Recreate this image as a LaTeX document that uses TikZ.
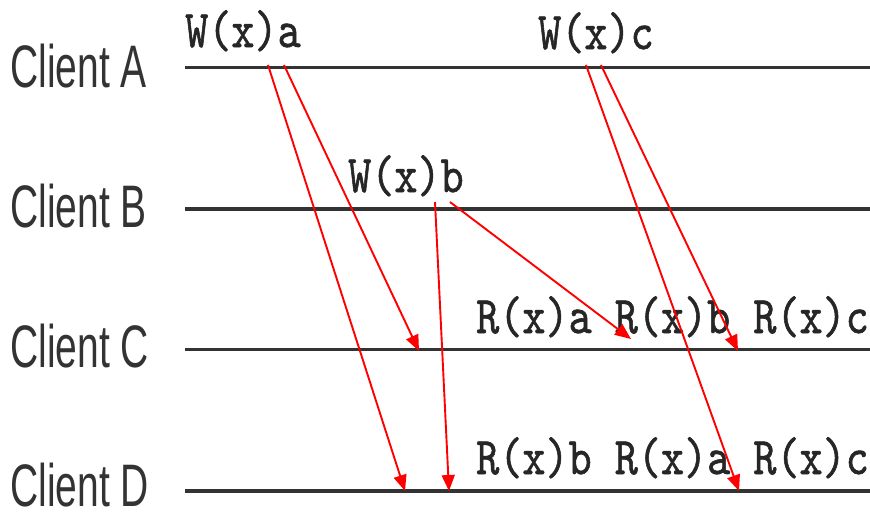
\documentclass[tikz,border=0pt]{standalone}
\usepackage{fontspec}
\usetikzlibrary{arrows.meta}
\newfontfamily\clientfont{Liberation Sans}
\newfontfamily\opfont[FakeBold=1.2]{lmmono10-regular.otf}
\definecolor{lanegray}{HTML}{333333}
\definecolor{msgred}{HTML}{FF0000}
\begin{document}
\begin{tikzpicture}[x=1pt,y=-1pt,
  thinlane/.style={draw=lanegray, line width=3pt},
  thicklane/.style={draw=lanegray, line width=4pt},
  clientlabel/.style={anchor=west, inner sep=0pt, font=\clientfont\fontsize{60}{60}\selectfont, text=lanegray},
  oplabel/.style={anchor=base west, inner sep=0pt, font=\opfont\fontsize{53}{53}\selectfont, text=black!85},
  msg/.style={draw=msgred, line width=1.9pt, -{Triangle[length=16pt,width=13pt]}}
]
\useasboundingbox (0,0) rectangle (870,514);
% client labels
\node[clientlabel] (la) at (10,66) {\scalebox{0.65}[1]{Client A}};
\node[clientlabel] (lb) at (10,206) {\scalebox{0.65}[1]{Client B}};
\node[clientlabel] (lc) at (10,346) {\scalebox{0.65}[1]{Client C}};
\node[clientlabel] (ld) at (10,485) {\scalebox{0.65}[1]{Client D}};
% lanes
\coordinate (A0) at (185,67);  \coordinate (A1) at (870,67);
\coordinate (B0) at (185,209); \coordinate (B1) at (870,209);
\coordinate (C0) at (185,349); \coordinate (C1) at (870,349);
\coordinate (D0) at (185,491); \coordinate (D1) at (870,491);
\draw[thinlane] (A0) -- (A1);
\draw[thicklane] (B0) -- (B1);
\draw[thinlane] (C0) -- (C1);
\draw[thicklane] (D0) -- (D1);
% operation labels
\node[oplabel] (wa) at (185,47) {\scalebox{0.83}[1]{W(x)a}};
\node[oplabel] (wc) at (538,49) {\scalebox{0.83}[1]{W(x)c}};
\node[oplabel] (wb) at (348,192) {\scalebox{0.83}[1]{W(x)b}};
\node[oplabel] (rc) at (476,333) {\scalebox{0.83}[1]{R(x)a R(x)b R(x)c}};
\node[oplabel] (rd) at (476,474) {\scalebox{0.83}[1]{R(x)b R(x)a R(x)c}};
% message endpoints
\coordinate (a1s) at (268,65); \coordinate (a1e) at (405,491);
\coordinate (a2s) at (284,65); \coordinate (a2e) at (419,351);
\coordinate (c1s) at (586,65); \coordinate (c1e) at (739,491);
\coordinate (c2s) at (601,65); \coordinate (c2e) at (738,351);
\coordinate (b1s) at (435,202); \coordinate (b1e) at (449,491);
\coordinate (b2s) at (450,202); \coordinate (b2e) at (631,339);
\draw[msg] (a1s) -- (a1e);
\draw[msg] (a2s) -- (a2e);
\draw[msg] (c1s) -- (c1e);
\draw[msg] (c2s) -- (c2e);
\draw[msg] (b1s) -- (b1e);
\draw[msg] (b2s) -- (b2e);
\end{tikzpicture}
\end{document}
